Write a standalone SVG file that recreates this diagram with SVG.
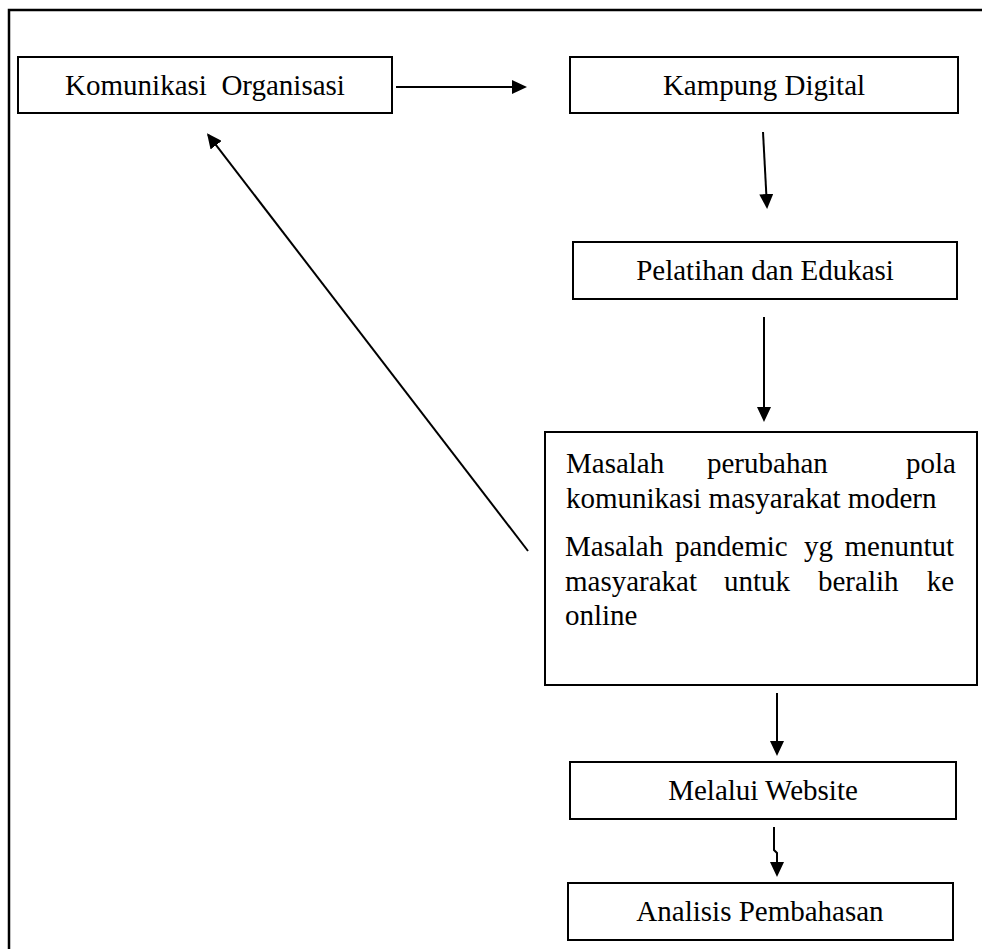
<svg xmlns="http://www.w3.org/2000/svg" width="982" height="949" viewBox="0 0 982 949">
  <style>
    .box { fill: #ffffff; stroke: #000000; stroke-width: 2; }
    .lbl { font-family: "Liberation Serif", "Times New Roman", serif; font-size: 29px; fill: #000000; }
    .c { text-anchor: middle; }
    .conn { fill: none; stroke: #000000; stroke-width: 2; }
  </style>
  <defs>
    <marker id="ah" markerUnits="userSpaceOnUse" markerWidth="16" markerHeight="14" refX="13" refY="7" orient="auto">
      <path d="M0,0 L15,7 L0,14 Z" fill="#000000"/>
    </marker>
  </defs>
  <rect x="0" y="0" width="982" height="949" fill="#ffffff"/>
  <path d="M9,949 V10 H982" fill="none" stroke="#000000" stroke-width="2.5"/>

  <g id="komunikasi-organisasi">
    <rect class="box" x="18" y="57" width="374" height="56"/>
    <text class="lbl c" x="205" y="95" xml:space="preserve">Komunikasi  Organisasi</text>
  </g>
  <g id="kampung-digital">
    <rect class="box" x="570" y="57" width="388" height="56"/>
    <text class="lbl c" x="764" y="95">Kampung Digital</text>
  </g>
  <g id="pelatihan-edukasi">
    <rect class="box" x="573" y="242" width="384" height="57"/>
    <text class="lbl c" x="765" y="280">Pelatihan dan Edukasi</text>
  </g>
  <g id="masalah">
    <rect class="box" x="545" y="432" width="432" height="253"/>
    <text class="lbl" y="473">
      <tspan x="566">Masalah</tspan>
      <tspan x="707">perubahan</tspan>
      <tspan x="956" text-anchor="end">pola</tspan>
    </text>
    <text class="lbl" x="566" y="508">komunikasi masyarakat modern</text>
    <text class="lbl" y="556">
      <tspan x="565">Masalah</tspan>
      <tspan x="675">pandemic</tspan>
      <tspan x="804">yg</tspan>
      <tspan x="954" text-anchor="end">menuntut</tspan>
    </text>
    <text class="lbl" y="591">
      <tspan x="565">masyarakat</tspan>
      <tspan x="724">untuk</tspan>
      <tspan x="818">beralih</tspan>
      <tspan x="954" text-anchor="end">ke</tspan>
    </text>
    <text class="lbl" x="565" y="625">online</text>
  </g>
  <g id="melalui-website">
    <rect class="box" x="570" y="762" width="386" height="57"/>
    <text class="lbl c" x="763" y="800">Melalui Website</text>
  </g>
  <g id="analisis-pembahasan">
    <rect class="box" x="568" y="883" width="385" height="57"/>
    <text class="lbl c" x="760" y="921">Analisis Pembahasan</text>
  </g>

  <g id="connectors">
    <line class="conn" x1="396" y1="87" x2="525" y2="87" marker-end="url(#ah)"/>
    <line class="conn" x1="763" y1="132" x2="767" y2="207" marker-end="url(#ah)"/>
    <line class="conn" x1="764" y1="317" x2="764" y2="420" marker-end="url(#ah)"/>
    <line class="conn" x1="528" y1="551" x2="208.2" y2="134.9" marker-end="url(#ah)"/>
    <line class="conn" x1="777" y1="693" x2="777" y2="754" marker-end="url(#ah)"/>
    <polyline class="conn" points="774,827 774,850 777,853 777,875" marker-end="url(#ah)"/>
  </g>
</svg>
